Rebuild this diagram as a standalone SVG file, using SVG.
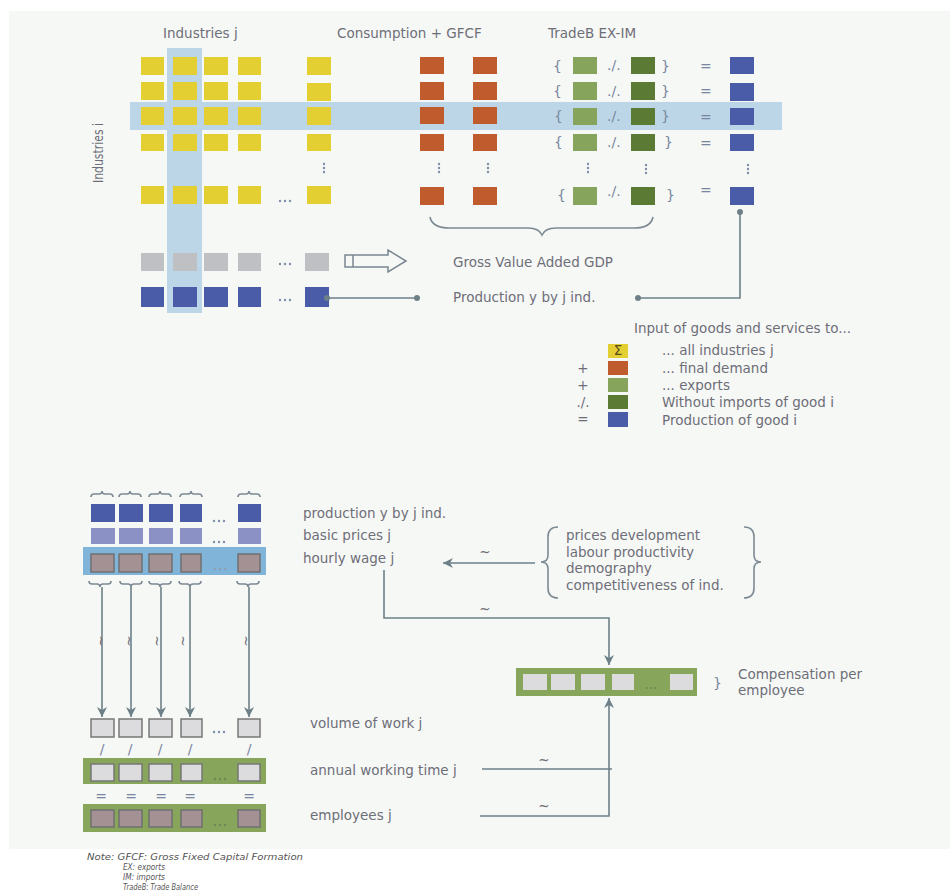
<svg xmlns="http://www.w3.org/2000/svg" width="950" height="895" viewBox="0 0 950 895">
<defs>
<style>
text{font-family:"DejaVu Sans","Liberation Sans",sans-serif;fill:#6e6e78;font-size:13.5px}
.y{fill:#e3cf31}.o{fill:#c05b2d}.lg{fill:#87a45c}.dg{fill:#5b7b35}.b{fill:#4a5ca8}.g{fill:#bfc0c3}
.pu{fill:#8b90c5}.m{fill:#a39193;stroke:#707070;stroke-width:1.5}.lt{fill:#dcdcdf;stroke:#777;stroke-width:1.5}
.band{fill:#bcd6e8}.gb{fill:#87a55b}
.sym{font-size:14px;fill:#7a86a0}
.ln{fill:none;stroke:#6d8088;stroke-width:1.6}
.br{fill:none;stroke:#7d8a94;stroke-width:1.6}
.dot{fill:#7d8ea6}
.note{font-size:8.3px;font-style:italic;fill:#555}
</style>
<marker id="ah" viewBox="0 0 10 10" refX="10" refY="5" markerWidth="10" markerHeight="10" markerUnits="userSpaceOnUse" orient="auto">
<path d="M0,0 L10,5 L0,10 L3,5 Z" fill="#6d8088"/>
</marker>
<marker id="dt" viewBox="0 0 6 6" refX="3" refY="3" markerWidth="6" markerHeight="6" markerUnits="userSpaceOnUse">
<circle cx="3" cy="3" r="3" fill="#6d8088"/>
</marker>
</defs>
<rect x="9" y="11" width="941" height="838" fill="#f6f8f6"/>

<g id="headers">
<text x="163" y="38">Industries j</text>
<text x="337" y="38">Consumption + GFCF</text>
<text x="548" y="38">TradeB EX-IM</text>
<text transform="translate(103,153) rotate(-90)" text-anchor="middle" font-size="15" textLength="60" lengthAdjust="spacingAndGlyphs">Industries i</text>
</g>

<g id="bands">
<rect class="band" x="167" y="48" width="35" height="265"/>
<rect class="band" x="130" y="102" width="652" height="28"/>
</g>

<g id="matrix">
<g id="yellow">
<rect class="y" x="141" y="57" width="23" height="18"/><rect class="y" x="173" y="57" width="24" height="18"/><rect class="y" x="204" y="57" width="24" height="18"/><rect class="y" x="238" y="57" width="23" height="18"/><rect class="y" x="307" y="57" width="24" height="18"/>
<rect class="y" x="141" y="82" width="23" height="18"/><rect class="y" x="173" y="82" width="24" height="18"/><rect class="y" x="204" y="82" width="24" height="18"/><rect class="y" x="238" y="82" width="23" height="18"/><rect class="y" x="307" y="83" width="24" height="18"/>
<rect class="y" x="141" y="107" width="23" height="18"/><rect class="y" x="173" y="107" width="24" height="18"/><rect class="y" x="204" y="107" width="24" height="18"/><rect class="y" x="238" y="107" width="23" height="18"/><rect class="y" x="307" y="107" width="24" height="18"/>
<rect class="y" x="141" y="134" width="23" height="17"/><rect class="y" x="173" y="134" width="24" height="17"/><rect class="y" x="204" y="134" width="24" height="17"/><rect class="y" x="238" y="134" width="23" height="17"/><rect class="y" x="307" y="134" width="24" height="17"/>
<rect class="y" x="141" y="186" width="23" height="18"/><rect class="y" x="173" y="186" width="24" height="18"/><rect class="y" x="204" y="186" width="24" height="18"/><rect class="y" x="238" y="186" width="23" height="18"/><rect class="y" x="307" y="186" width="24" height="18"/>
<circle class="dot" cx="324" cy="164" r="1.2"/><circle class="dot" cx="324" cy="168" r="1.2"/><circle class="dot" cx="324" cy="172" r="1.2"/>
<circle class="dot" cx="280" cy="201" r="1.2"/><circle class="dot" cx="285" cy="201" r="1.2"/><circle class="dot" cx="290" cy="201" r="1.2"/>
</g>
<g id="orange">
<rect class="o" x="420" y="57" width="24" height="17"/><rect class="o" x="473" y="57" width="24" height="17"/>
<rect class="o" x="420" y="82" width="24" height="18"/><rect class="o" x="473" y="82" width="24" height="18"/>
<rect class="o" x="420" y="107" width="24" height="17"/><rect class="o" x="473" y="107" width="24" height="17"/>
<rect class="o" x="420" y="134" width="24" height="17"/><rect class="o" x="473" y="134" width="24" height="17"/>
<rect class="o" x="420" y="187" width="24" height="18"/><rect class="o" x="473" y="187" width="24" height="18"/>
<circle class="dot" cx="439" cy="164" r="1.2"/><circle class="dot" cx="439" cy="168" r="1.2"/><circle class="dot" cx="439" cy="172" r="1.2"/>
<circle class="dot" cx="488" cy="164" r="1.2"/><circle class="dot" cx="488" cy="168" r="1.2"/><circle class="dot" cx="488" cy="172" r="1.2"/>
</g>
<g id="trade">
<rect class="lg" x="573" y="57" width="24" height="17"/><rect class="dg" x="631" y="57" width="24" height="17"/>
<rect class="lg" x="573" y="82" width="24" height="18"/><rect class="dg" x="631" y="82" width="24" height="18"/>
<rect class="lg" x="573" y="108" width="24" height="17"/><rect class="dg" x="631" y="108" width="24" height="17"/>
<rect class="lg" x="573" y="134" width="24" height="17"/><rect class="dg" x="631" y="134" width="24" height="17"/>
<rect class="lg" x="573" y="187" width="24" height="18"/><rect class="dg" x="631" y="187" width="24" height="18"/>
<text class="sym" x="553" y="71">{</text><text class="sym" x="553" y="96">{</text><text class="sym" x="554" y="121">{</text><text class="sym" x="554" y="147">{</text><text class="sym" x="557" y="200">{</text>
<text class="sym" x="661" y="71">}</text><text class="sym" x="661" y="96">}</text><text class="sym" x="661" y="121">}</text><text class="sym" x="664" y="147">}</text><text class="sym" x="666" y="200">}</text>
<text class="sym" x="607" y="70" font-size="12">./.</text><text class="sym" x="607" y="96" font-size="12">./.</text><text class="sym" x="607" y="121" font-size="12">./.</text><text class="sym" x="607" y="147" font-size="12">./.</text><text class="sym" x="607" y="196" font-size="12">./.</text>
<circle class="dot" cx="588" cy="164" r="1.2"/><circle class="dot" cx="588" cy="168" r="1.2"/><circle class="dot" cx="588" cy="172" r="1.2"/>
<circle class="dot" cx="646" cy="165" r="1.2"/><circle class="dot" cx="646" cy="169" r="1.2"/><circle class="dot" cx="646" cy="173" r="1.2"/>
</g>
<g id="production">
<text class="sym" x="700" y="71">=</text><text class="sym" x="700" y="96">=</text><text class="sym" x="700" y="122">=</text><text class="sym" x="700" y="148">=</text><text class="sym" x="700" y="195">=</text>
<rect class="b" x="730" y="57" width="24" height="17"/>
<rect class="b" x="730" y="83" width="24" height="18"/>
<rect class="b" x="730" y="108" width="24" height="17"/>
<rect class="b" x="730" y="134" width="24" height="17"/>
<rect class="b" x="730" y="187" width="24" height="18"/>
<circle class="dot" cx="748" cy="165" r="1.2"/><circle class="dot" cx="748" cy="169" r="1.2"/><circle class="dot" cx="748" cy="173" r="1.2"/>
</g>
</g>

<g id="gva-row">
<rect class="g" x="141" y="253" width="23" height="18"/><rect class="g" x="173" y="253" width="24" height="18"/><rect class="g" x="204" y="253" width="24" height="18"/><rect class="g" x="238" y="253" width="23" height="18"/><rect class="g" x="305" y="253" width="24" height="18"/>
<circle class="dot" cx="280" cy="264" r="1.2"/><circle class="dot" cx="285" cy="264" r="1.2"/><circle class="dot" cx="290" cy="264" r="1.2"/>
<path d="M345,255 H388 V250 L406,261 L388,272 V267 H345 Z M353,255 V267" fill="none" stroke="#7a8790" stroke-width="1.5"/>
<text x="453" y="267">Gross Value Added GDP</text>
</g>

<g id="prod-row">
<rect class="b" x="141" y="287" width="23" height="20"/><rect class="b" x="173" y="287" width="24" height="20"/><rect class="b" x="204" y="287" width="24" height="20"/><rect class="b" x="238" y="287" width="23" height="20"/><rect class="b" x="305" y="287" width="24" height="20"/>
<circle class="dot" cx="280" cy="300" r="1.2"/><circle class="dot" cx="285" cy="300" r="1.2"/><circle class="dot" cx="290" cy="300" r="1.2"/>
<text x="453" y="302">Production y by j ind.</text>
</g>

<g id="gdp-brace">
<path class="br" d="M430,217 Q432,228 450,228 H528 Q539,228 542,235 Q545,228 556,228 H634 Q651,228 653,217"/>
</g>

<g id="legend">
<text x="634" y="333">Input of goods and services to...</text>
<rect class="y" x="608" y="344" width="20" height="14"/>
<text x="618" y="355" text-anchor="middle" font-size="9" style="fill:#5a4a20">Σ</text>
<rect class="o" x="608" y="361" width="20" height="14"/>
<rect class="lg" x="608" y="378" width="20" height="14"/>
<rect class="dg" x="608" y="395" width="20" height="14"/>
<rect class="b" x="608" y="412" width="20" height="15"/>
<text x="583" y="373" text-anchor="middle">+</text>
<text x="583" y="390" text-anchor="middle">+</text>
<text x="583" y="407" text-anchor="middle" font-size="12">./.</text>
<text x="583" y="424" text-anchor="middle">=</text>
<text x="662" y="355">... all industries j</text>
<text x="662" y="373">... final demand</text>
<text x="662" y="390">... exports</text>
<text x="662" y="407">Without imports of good i</text>
<text x="662" y="425">Production of good i</text>
</g>

<g id="stack-top">
<path class="br" stroke-width="1.2" d="M91,497 q0,-3 3,-3 h5 q3,0 3,-3 q0,3 3,3 h5 q3,0 3,3 M119,497 q0,-3 3,-3 h5 q3,0 3,-3 q0,3 3,3 h5 q3,0 3,3 M149,497 q0,-3 3,-3 h5 q3,0 3,-3 q0,3 3,3 h5 q3,0 3,3 M180,497 q0,-3 3,-3 h5 q3,0 3,-3 q0,3 3,3 h5 q3,0 3,3 M238,497 q0,-3 3,-3 h5 q3,0 3,-3 q0,3 3,3 h5 q3,0 3,3"/>
<rect class="b" x="91" y="504" width="24" height="18"/><rect class="b" x="119" y="504" width="24" height="18"/><rect class="b" x="149" y="504" width="24" height="18"/><rect class="b" x="180" y="504" width="22" height="18"/><rect class="b" x="238" y="504" width="23" height="18"/>
<rect class="pu" x="91" y="528" width="24" height="16"/><rect class="pu" x="119" y="528" width="24" height="16"/><rect class="pu" x="149" y="528" width="24" height="16"/><rect class="pu" x="180" y="528" width="22" height="16"/><rect class="pu" x="238" y="528" width="23" height="16"/>
<circle class="dot" cx="214" cy="521" r="1.2"/><circle class="dot" cx="219" cy="521" r="1.2"/><circle class="dot" cx="224" cy="521" r="1.2"/>
<circle class="dot" cx="214" cy="542" r="1.2"/><circle class="dot" cx="219" cy="542" r="1.2"/><circle class="dot" cx="224" cy="542" r="1.2"/>
<rect x="83" y="547" width="183" height="28" fill="#80b4d8"/>
<rect class="m" x="91" y="554" width="23" height="18"/><rect class="m" x="119" y="554" width="23" height="18"/><rect class="m" x="149" y="554" width="23" height="18"/><rect class="m" x="181" y="554" width="20" height="18"/><rect class="m" x="238" y="554" width="22" height="18"/>
<circle cx="215" cy="569" r="1.2" fill="#8aa0b8"/><circle cx="220" cy="569" r="1.2" fill="#8aa0b8"/><circle cx="225" cy="569" r="1.2" fill="#8aa0b8"/>
<path class="br" stroke-width="1.2" d="M89,581 q0,3 3,3 h5 q3,0 3,3 q0,-3 3,-3 h5 q3,0 3,-3 M120,581 q0,3 3,3 h5 q3,0 3,3 q0,-3 3,-3 h5 q3,0 3,-3 M149,581 q0,3 3,3 h5 q3,0 3,3 q0,-3 3,-3 h5 q3,0 3,-3 M179,581 q0,3 3,3 h5 q3,0 3,3 q0,-3 3,-3 h5 q3,0 3,-3 M237,581 q0,3 3,3 h5 q3,0 3,3 q0,-3 3,-3 h5 q3,0 3,-3"/>
<text x="303" y="518">production y by j ind.</text>
<text x="303" y="540">basic prices j</text>
<text x="303" y="563">hourly wage j</text>
</g>

<g id="factors">
<path class="br" stroke-width="2" d="M558,527 Q548,527 548,537 V555 Q548,562 541,562 Q548,562 548,569 V588 Q548,598 558,598"/>
<path class="br" stroke-width="2" d="M744,527 Q754,527 754,537 V555 Q754,562 761,562 Q754,562 754,569 V588 Q754,598 744,598"/>
<text x="566" y="540">prices development</text>
<text x="566" y="557">labour productivity</text>
<text x="566" y="573">demography</text>
<text x="566" y="590">competitiveness of ind.</text>
</g>

<g id="stack-bottom">
<rect class="lt" x="91" y="719" width="23" height="18"/><rect class="lt" x="119" y="719" width="23" height="18"/><rect class="lt" x="149" y="719" width="23" height="18"/><rect class="lt" x="181" y="719" width="21" height="18"/><rect class="lt" x="238" y="719" width="22" height="18"/>
<circle class="dot" cx="214" cy="732" r="1.2"/><circle class="dot" cx="219" cy="732" r="1.2"/><circle class="dot" cx="224" cy="732" r="1.2"/>
<text class="sym" x="102" y="754" text-anchor="middle">/</text><text class="sym" x="130" y="754" text-anchor="middle">/</text><text class="sym" x="160" y="754" text-anchor="middle">/</text><text class="sym" x="190" y="754" text-anchor="middle">/</text><text class="sym" x="249" y="754" text-anchor="middle">/</text>
<rect class="gb" x="83" y="758" width="183" height="26"/>
<rect class="lt" x="91" y="764" width="23" height="17"/><rect class="lt" x="119" y="764" width="23" height="17"/><rect class="lt" x="149" y="764" width="23" height="17"/><rect class="lt" x="181" y="764" width="21" height="17"/><rect class="lt" x="238" y="764" width="22" height="17"/>
<circle cx="215" cy="779" r="1.2" fill="#6f8a55"/><circle cx="220" cy="779" r="1.2" fill="#6f8a55"/><circle cx="225" cy="779" r="1.2" fill="#6f8a55"/>
<text class="sym" x="101" y="801" text-anchor="middle">=</text><text class="sym" x="131" y="801" text-anchor="middle">=</text><text class="sym" x="161" y="801" text-anchor="middle">=</text><text class="sym" x="190" y="801" text-anchor="middle">=</text><text class="sym" x="249" y="801" text-anchor="middle">=</text>
<rect class="gb" x="83" y="804" width="183" height="28"/>
<rect class="m" x="91" y="810" width="23" height="17"/><rect class="m" x="119" y="810" width="23" height="17"/><rect class="m" x="149" y="810" width="23" height="17"/><rect class="m" x="181" y="810" width="21" height="17"/><rect class="m" x="238" y="810" width="22" height="17"/>
<circle cx="215" cy="825" r="1.2" fill="#6f8a55"/><circle cx="220" cy="825" r="1.2" fill="#6f8a55"/><circle cx="225" cy="825" r="1.2" fill="#6f8a55"/>
<text x="310" y="728">volume of work j</text>
<text x="310" y="775">annual working time j</text>
<text x="310" y="820">employees j</text>
</g>

<g id="compensation">
<rect class="gb" x="516" y="668" width="181" height="28"/>
<rect class="lt" x="523" y="674" width="24" height="16" style="stroke:none"/><rect class="lt" x="551" y="674" width="24" height="16" style="stroke:none"/><rect class="lt" x="581" y="674" width="24" height="16" style="stroke:none"/><rect class="lt" x="612" y="674" width="22" height="16" style="stroke:none"/><rect class="lt" x="670" y="674" width="23" height="16" style="stroke:none"/>
<circle cx="647" cy="688" r="1" fill="#6f8a55"/><circle cx="651" cy="688" r="1" fill="#6f8a55"/><circle cx="655" cy="688" r="1" fill="#6f8a55"/>
<text class="sym" x="713" y="688">}</text>
<text x="738" y="679" font-size="13">Compensation per</text>
<text x="738" y="695" font-size="13">employee</text>
</g>

<g id="connectors">
<path class="ln" d="M327,298 H417" marker-start="url(#dt)" marker-end="url(#dt)"/>
<path class="ln" d="M638,298 H740 V212" marker-start="url(#dt)" marker-end="url(#dt)"/>
<path class="ln" d="M102,587 V717" marker-end="url(#ah)"/>
<path class="ln" d="M131,587 V717" marker-end="url(#ah)"/>
<path class="ln" d="M161,587 V717" marker-end="url(#ah)"/>
<path class="ln" d="M190,587 V717" marker-end="url(#ah)"/>
<path class="ln" d="M249,587 V717" marker-end="url(#ah)"/>
<path class="ln" d="M535,563 H443" marker-end="url(#ah)"/>
<path class="ln" d="M384,570 V618 H609 V665" marker-end="url(#ah)"/>
<path class="ln" d="M480,816 H609 V698" marker-end="url(#ah)"/>
<path class="ln" d="M482,769 H612"/>
<g>
<text x="485" y="557" text-anchor="middle" font-size="11">~</text>
<text x="485" y="614" text-anchor="middle" font-size="11">~</text>
<text x="544" y="765" text-anchor="middle" font-size="11">~</text>
<text x="544" y="811" text-anchor="middle" font-size="11">~</text>
<text transform="translate(96,641) rotate(90)" text-anchor="middle" font-size="11">~</text>
<text transform="translate(124,641) rotate(90)" text-anchor="middle" font-size="11">~</text>
<text transform="translate(152,641) rotate(90)" text-anchor="middle" font-size="11">~</text>
<text transform="translate(178,641) rotate(90)" text-anchor="middle" font-size="11">~</text>
<text transform="translate(241,641) rotate(90)" text-anchor="middle" font-size="11">~</text>
</g>
</g>

<g id="note">
<text class="note" x="87" y="860" textLength="216" lengthAdjust="spacingAndGlyphs">Note: GFCF: Gross Fixed Capital Formation</text>
<text class="note" x="123" y="870" textLength="42" lengthAdjust="spacingAndGlyphs">EX: exports</text>
<text class="note" x="123" y="880" textLength="42" lengthAdjust="spacingAndGlyphs">IM: imports</text>
<text class="note" x="123" y="890" textLength="75" lengthAdjust="spacingAndGlyphs">TradeB: Trade Balance</text>
</g>
</svg>
